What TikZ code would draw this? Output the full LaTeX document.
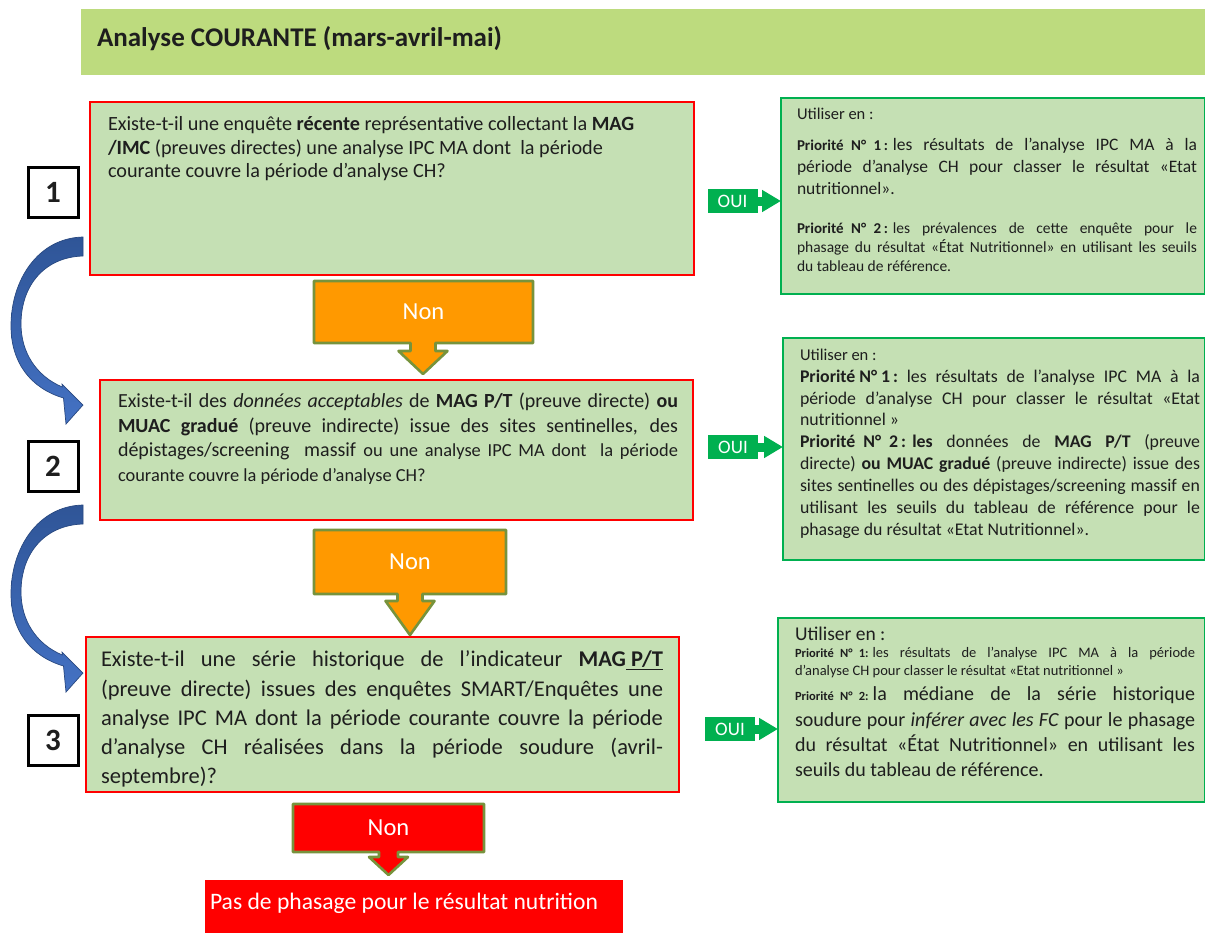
\documentclass[tikz,border=0pt]{standalone}
\usepackage{fontspec}
\setmainfont{Carlito}
\usetikzlibrary{arrows.meta}

\definecolor{hdrgreen}{HTML}{BDDB7E}
\definecolor{qfill}{HTML}{C5E0B4}
\definecolor{qred}{HTML}{FF0000}
\definecolor{okgreen}{HTML}{00B050}
\definecolor{nonorange}{HTML}{FF9900}
\definecolor{nonborder}{HTML}{77933C}
\definecolor{bluedark}{HTML}{2F5597}
\definecolor{bluelight}{HTML}{4472C4}
\definecolor{ink}{HTML}{1E1E1E}

% font size helper, justified line helper, fixed-width label helper
\newcommand\fs[2]{\fontsize{#1}{#2}\selectfont}
\newcommand\jl[2]{\makebox[#1][s]{#2}}
\newcommand\prio[2]{\mbox{\fs{#1}{#1}\bfseries Priorité\hspace{0.5em}N°\hspace{0.5em}#2}}

\tikzset{
  question/.style={draw=qred, line width=1.3pt, fill=qfill, anchor=north west, inner sep=0, outer sep=0},
  advice/.style={draw=okgreen, line width=1.3pt, fill=qfill, anchor=north west, inner sep=0, outer sep=0},
  numbox/.style={draw=black, line width=3pt, fill=white, minimum size=50pt, inner sep=0, text=ink, font=\fs{31}{36}\bfseries},
  tl/.style={anchor=base west, inner sep=0, outer sep=0, text=ink},
  ouibox/.style={fill=okgreen, text=white, minimum width=50pt, minimum height=24pt, inner sep=0, outer sep=0, font=\fs{19}{22}},
  ouiarrow/.style={draw=okgreen, line width=9pt, -{Triangle[length=19pt,width=21pt]}},
  nonshape/.style={draw=nonborder, line width=2.6pt, line join=round},
  nontext/.style={text=white, inner sep=0, font=\fs{24.5}{28}},
  bluearrow/.style={top color=bluedark, bottom color=bluelight, draw=bluedark!85!black, line width=0.7pt},
}

\begin{document}
\begin{tikzpicture}[x=1pt,y=-1pt]
\useasboundingbox (0,0) rectangle (1205,932);
\fill[white] (0,0) rectangle (1205,932);

% title bar
\node[fill=hdrgreen, anchor=north west, minimum width=1125pt, minimum height=66pt, inner sep=0] (hdrbar) at (81,9) {};
\node[tl, font=\fs{27}{32}\bfseries] (hdrtxt) at (97,46) {Analyse COURANTE (mars-avril-mai)};

% question boxes
\node[question, minimum width=604pt, minimum height=173pt] (q1) at (90,102) {};
\node[question, minimum width=593pt, minimum height=140pt] (q2) at (100,380) {};
\node[question, minimum width=593pt, minimum height=155pt] (q3) at (86,637) {};

% step numbers
\node[numbox] (n1) at (53,192) {1};
\node[numbox] (n2) at (53,466) {2};
\node[numbox] (n3) at (53,740) {3};

% question 1
\begin{scope}[font=\fs{20.2}{23.5}]
\node[tl] (q1a) at (108,130.5) {Existe-t-il une enquête \textbf{récente} représentative collectant la \textbf{MAG}};
\node[tl] (q1b) at (108,154) {\textbf{/IMC} (preuves directes) une analyse IPC MA dont\ \ la période};
\node[tl] (q1c) at (108,177.5) {courante couvre la période d’analyse CH?};
\end{scope}

% question 2
\begin{scope}[font=\fs{20}{24}]
\node[tl] (q2a) at (118,407.5) {\jl{560pt}{Existe-t-il des \textit{données acceptables} de \textbf{MAG P/T} (preuve directe) \textbf{ou}}};
\node[tl] (q2b) at (118,432) {\jl{560pt}{\textbf{MUAC gradué} (preuve indirecte) issue des sites sentinelles, des}};
\node[tl] (q2c) at (118,456.5) {\jl{560pt}{dépistages/screening\ \ massif {\fs{18.4}{22}ou une analyse IPC MA dont\ \ la période}}};
\node[tl, font=\fs{18.4}{22}] (q2d) at (118,481) {courante couvre la période d’analyse CH?};
\end{scope}

% question 3
\begin{scope}[font=\fs{22.5}{29}]
\node[tl] (q3a) at (101,666.5) {\jl{562pt}{Existe-t-il une série historique de l’indicateur \textbf{MAG\underline{ P/T}}}};
\node[tl] (q3b) at (101,696) {\jl{562pt}{(preuve directe) issues des enquêtes SMART/Enquêtes une}};
\node[tl] (q3c) at (101,725) {\jl{562pt}{analyse IPC MA dont la période courante couvre la période}};
\node[tl] (q3d) at (101,754) {\jl{562pt}{d’analyse CH réalisées dans la période soudure (avril-}};
\node[tl] (q3e) at (101,783) {septembre)?};
\end{scope}

% advice boxes
\node[advice, minimum width=424pt, minimum height=196pt] (r1) at (781,98) {};
\node[advice, minimum width=422pt, minimum height=222pt] (r2) at (783,338) {};
\node[advice, minimum width=427pt, minimum height=184pt] (r3) at (778,618) {};

% advice 1
\node[tl, font=\fs{16.5}{20}] (r1u) at (797,119.5) {Utiliser en :};
\begin{scope}[font=\fs{17.5}{21}]
\node[tl] (r1a) at (797,150) {\jl{400pt}{\prio{15}{1\,:}\hspace{5pt}les résultats de l’analyse IPC MA à la}};
\node[tl] (r1b) at (797,172) {\jl{400pt}{période d’analyse CH pour classer le résultat «Etat}};
\node[tl] (r1c) at (797,194) {nutritionnel».};
\end{scope}
\begin{scope}[font=\fs{15.5}{19}]
\node[tl] (r1d) at (797,233) {\jl{400pt}{\prio{15}{2\,:}\hspace{5pt}les prévalences de cette enquête pour le}};
\node[tl] (r1e) at (797,252) {\jl{400pt}{phasage du résultat «État Nutritionnel» en utilisant les seuils}};
\node[tl] (r1f) at (797,271) {du tableau de référence.};
\end{scope}

% advice 2
\node[tl, font=\fs{16.5}{20}] (r2u) at (800,360) {Utiliser en :};
\begin{scope}[font=\fs{17.8}{22}]
\node[tl] (r2a) at (800,382.5) {\jl{400pt}{\mbox{\bfseries Priorité N° 1\,:} les résultats de l’analyse IPC MA à la}};
\node[tl] (r2b) at (800,404.5) {\jl{400pt}{période d’analyse CH pour classer le résultat «Etat}};
\node[tl] (r2c) at (800,425.5) {nutritionnel »};
\node[tl] (r2d) at (800,447.5) {\jl{400pt}{\mbox{\bfseries Priorité\hspace{0.45em}N°\hspace{0.45em}2\,:\hspace{0.35em}les} données de \textbf{MAG P/T} (preuve}};
\node[tl] (r2e) at (800,469.5) {\jl{400pt}{directe) \textbf{ou MUAC gradué} (preuve indirecte) issue des}};
\node[tl] (r2f) at (800,491.5) {\jl{400pt}{sites sentinelles ou des dépistages/screening massif en}};
\node[tl] (r2g) at (800,513.5) {\jl{400pt}{utilisant les seuils du tableau de référence pour le}};
\node[tl] (r2h) at (800,535.5) {phasage du résultat «Etat Nutritionnel».};
\end{scope}

% advice 3
\node[tl, font=\fs{19.5}{23}] (r3u) at (795,640) {Utiliser en :};
\begin{scope}[font=\fs{14.5}{18}]
\node[tl] (r3a) at (795,657) {\jl{400pt}{\prio{12.5}{1:}\hspace{4pt}les résultats de l’analyse IPC MA à la période}};
\node[tl] (r3b) at (795,675) {d’analyse CH pour classer le résultat «Etat nutritionnel »};
\end{scope}
\begin{scope}[font=\fs{20}{25}]
\node[tl] (r3c) at (795,700) {\jl{400pt}{\prio{12.5}{2:}\hspace{4pt}la médiane de la série historique}};
\node[tl] (r3d) at (795,726) {\jl{400pt}{soudure pour \textit{inférer avec les FC} pour le phasage}};
\node[tl] (r3e) at (795,751) {\jl{400pt}{du résultat «État Nutritionnel» en utilisant les}};
\node[tl] (r3f) at (795,776) {seuils du tableau de référence.};
\end{scope}

% OUI arrows
\node[ouibox] (oui1) at (732.5,201) {OUI};
\node[ouibox] (oui2) at (733,447) {OUI};
\node[ouibox] (oui3) at (730,729) {OUI};
\draw[ouiarrow] (oui1.east) -- (oui1.east -| r1.west);
\draw[ouiarrow] (oui2.east) -- (oui2.east -| r2.west);
\draw[ouiarrow] (oui3.east) -- (oui3.east -| r3.west);

% Non arrows
\filldraw[nonshape, fill=nonorange] (314,281) -- (533,281) -- (533,343) -- (435.5,343) -- (435.5,351)
  -- (447.5,351) -- (423,374) -- (398.5,351) -- (410.5,351) -- (410.5,343) -- (314,343) -- cycle;
\node[nontext] (non1) at (423.5,312) {Non};
\filldraw[nonshape, fill=nonorange] (314,530) -- (506,530) -- (506,594) -- (422.5,594) -- (422.5,601)
  -- (434.5,601) -- (410,635) -- (385.5,601) -- (397.5,601) -- (397.5,594) -- (314,594) -- cycle;
\node[nontext] (non2) at (410,562) {Non};
\filldraw[nonshape, fill=qred] (293,804) -- (484,804) -- (484,852) -- (398,852) -- (398,857)
  -- (408,857) -- (388.5,875) -- (369,857) -- (379,857) -- (379,852) -- (293,852) -- cycle;
\node[nontext] (non3) at (388.5,828) {Non};

% final result
\node[fill=qred, anchor=north west, minimum width=418pt, minimum height=53pt, inner sep=0] (nophase) at (205,880) {};
\node[tl, text=white, font=\fs{23.6}{28}] (nophasetxt) at (210,909) {Pas de phasage pour le résultat nutrition};

% curved step arrows
\foreach \dy in {0,268} {
  \begin{scope}[shift={(0,\dy)}]
    \shadedraw[bluearrow] (83,237) .. controls (38,238) and (11,280) .. (11,326)
      .. controls (11,362) and (30,388) .. (63.5,398) -- (66,424) -- (83,405) -- (62,384) -- (62.3,387)
      .. controls (36,376) and (21,352) .. (21,324)
      .. controls (21,285) and (45,257) .. (83,256) -- cycle;
  \end{scope}
}
\end{tikzpicture}
\end{document}
